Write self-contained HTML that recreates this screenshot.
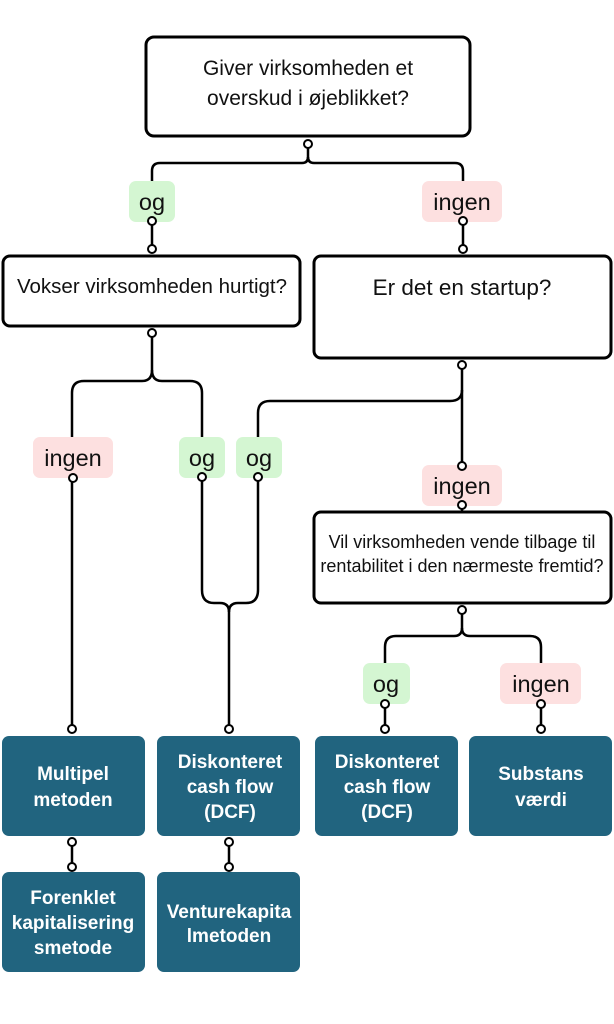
<!DOCTYPE html>
<html><head><meta charset="utf-8"><style>
html,body{margin:0;padding:0;background:#fff;}
svg{display:block}
text{font-family:"Liberation Sans",sans-serif;}
.q{font-size:21px;fill:#111;text-anchor:middle}
.l{font-size:23.5px;fill:#111;text-anchor:middle}
.b{font-size:19px;fill:#fff;font-weight:bold;text-anchor:middle}
</style></head><body>
<svg width="614" height="1024" viewBox="0 0 614 1024" xmlns="http://www.w3.org/2000/svg">
<g fill="none" stroke="#000" stroke-width="2.5">
<path d="M308 143 V157 Q308 163 302 163 H160 Q152 163 152 171 V182"/>
<path d="M308 157 Q308 163 314 163 H455 Q463 163 463 171 V182"/>
<path d="M152 222 V249"/>
<path d="M463 222 V249"/>
<path d="M152 333 V370 Q152 381 142 381 H84 Q72 381 72 393 V437"/>
<path d="M152 370 Q152 381 162 381 H190 Q202 381 202 393 V437"/>
<path d="M462 364 V466"/>
<path d="M462 390 Q462 401 450 401 H270 Q258 401 258 413 V437"/>
<path d="M462 505 V512"/>
<path d="M202 477 V590 Q202 603 214 603 H220 Q229 603 229 612 V729"/>
<path d="M258 477 V590 Q258 603 246 603 H238 Q229 603 229 612"/>
<path d="M72 477 V729"/>
<path d="M462 610 V628 Q462 636 454 636 H396 Q385 636 385 647 V663"/>
<path d="M462 628 Q462 636 470 636 H530 Q541 636 541 647 V663"/>
<path d="M385 703 V729"/>
<path d="M541 703 V729"/>
<path d="M72 842 V867"/>
<path d="M229 842 V867"/>
</g>
<g fill="#fff" stroke="#000" stroke-width="3">
<rect x="146" y="37" width="324" height="99" rx="8"/>
<rect x="3" y="256" width="297" height="70" rx="7"/>
<rect x="314" y="256" width="297" height="102" rx="7"/>
<rect x="314" y="512" width="297" height="91" rx="7"/>
</g>
<text class="q" x="308" y="75">Giver virksomheden et</text>
<text class="q" x="308" y="105">overskud i øjeblikket?</text>
<text class="q" x="152" y="293" style="font-size:20.5px">Vokser virksomheden hurtigt?</text>
<text class="q" x="462" y="295" style="font-size:22.5px">Er det en startup?</text>
<text class="q" x="462" y="548" style="font-size:18px">Vil virksomheden vende tilbage til</text>
<text class="q" x="462" y="572" style="font-size:18px">rentabilitet i den nærmeste fremtid?</text>
<g>
<rect x="129" y="181" width="46" height="41" rx="7" fill="#d4f6d2"/>
<rect x="422" y="181" width="80" height="41" rx="7" fill="#fde0e0"/>
<rect x="33" y="437" width="80" height="41" rx="7" fill="#fde0e0"/>
<rect x="179" y="437" width="46" height="41" rx="7" fill="#d4f6d2"/>
<rect x="236" y="437" width="46" height="41" rx="7" fill="#d4f6d2"/>
<rect x="422" y="465" width="80" height="41" rx="7" fill="#fde0e0"/>
<rect x="363" y="663" width="47" height="41" rx="7" fill="#d4f6d2"/>
<rect x="500" y="663" width="81" height="41" rx="7" fill="#fde0e0"/>
</g>
<text class="l" x="152" y="210">og</text>
<text class="l" x="462" y="210">ingen</text>
<text class="l" x="73" y="466">ingen</text>
<text class="l" x="202" y="466">og</text>
<text class="l" x="259" y="466">og</text>
<text class="l" x="462" y="494">ingen</text>
<text class="l" x="386" y="692">og</text>
<text class="l" x="541" y="692">ingen</text>
<g fill="#21647f">
<rect x="2" y="736" width="143" height="100" rx="7"/>
<rect x="157" y="736" width="143" height="100" rx="7"/>
<rect x="315" y="736" width="143" height="100" rx="7"/>
<rect x="469" y="736" width="143" height="100" rx="7"/>
<rect x="2" y="872" width="143" height="100" rx="7"/>
<rect x="157" y="872" width="143" height="100" rx="7"/>
</g>
<text class="b" x="73" y="780">Multipel</text>
<text class="b" x="73" y="806">metoden</text>
<text class="b" x="230" y="768">Diskonteret</text>
<text class="b" x="230" y="793">cash flow</text>
<text class="b" x="230" y="818">(DCF)</text>
<text class="b" x="387" y="768">Diskonteret</text>
<text class="b" x="387" y="793">cash flow</text>
<text class="b" x="387" y="818">(DCF)</text>
<text class="b" x="541" y="780">Substans</text>
<text class="b" x="541" y="806">værdi</text>
<text class="b" x="73" y="904">Forenklet</text>
<text class="b" x="73" y="929">kapitalisering</text>
<text class="b" x="73" y="954">smetode</text>
<text class="b" x="229" y="918">Venturekapita</text>
<text class="b" x="229" y="942">lmetoden</text>
<g fill="#fff" stroke="#000" stroke-width="2">
<circle cx="308" cy="144" r="4"/>
<circle cx="152" cy="221" r="4"/><circle cx="152" cy="249" r="4"/>
<circle cx="463" cy="221" r="4"/><circle cx="463" cy="249" r="4"/>
<circle cx="152" cy="333" r="4"/>
<circle cx="462" cy="365" r="4"/>
<circle cx="462" cy="466" r="4"/><circle cx="462" cy="505" r="4"/>
<circle cx="73" cy="478" r="4"/><circle cx="202" cy="477" r="4"/><circle cx="258" cy="477" r="4"/>
<circle cx="462" cy="610" r="4"/>
<circle cx="385" cy="704" r="4"/><circle cx="541" cy="704" r="4"/>
<circle cx="72" cy="729" r="4"/><circle cx="229" cy="729" r="4"/>
<circle cx="385" cy="729" r="4"/><circle cx="541" cy="729" r="4"/>
<circle cx="72" cy="842" r="4"/><circle cx="72" cy="867" r="4"/>
<circle cx="229" cy="842" r="4"/><circle cx="229" cy="867" r="4"/>
</g>
</svg>
</body></html>
